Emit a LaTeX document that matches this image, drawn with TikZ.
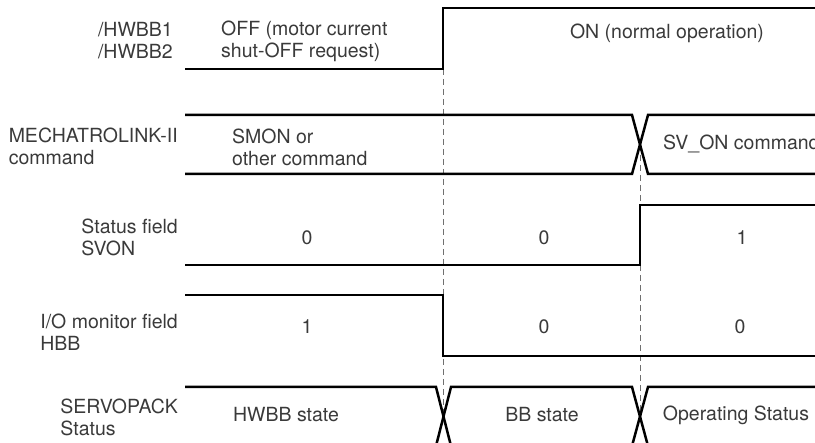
\documentclass[tikz,border=0pt]{standalone}
\usepackage{fontspec}
\setmainfont{TeX Gyre Heros}
\usepackage{xcolor}
\usepackage{tikz}
\definecolor{ink}{HTML}{3A3A3A}
\definecolor{guide}{HTML}{707070}
\tikzset{
  wave/.style={line width=2.5pt},
  guideline/.style={guide,line width=0.8pt,dash pattern=on 6pt off 4pt},
  siglabel/.style={anchor=east,align=left,text=ink,inner sep=0pt,font=\fontsize{19.5}{22}\selectfont},
  value/.style={text=ink,inner sep=0pt,font=\fontsize{19.5}{22}\selectfont}
}
\begin{document}
\begin{tikzpicture}[x=1pt,y=-1pt]
  \useasboundingbox (0,0) rectangle (815,443);
  \clip (0,0) rectangle (815,443);
  \draw[guideline] (443,69) -- (443,415);
  \draw[guideline] (640,145) -- (640,415);
  \draw[wave] (185,69) -- (443,69) -- (443,8) -- (820,8);
  \draw[wave] (185,115) -- (632,115) -- (648,174) -- (820,174);
  \draw[wave] (185,174) -- (632,174) -- (648,115) -- (820,115);
  \draw[wave] (185,265) -- (640,265) -- (640,205) -- (820,205);
  \draw[wave] (185,295) -- (443,295) -- (443,356) -- (820,356);
  \draw[wave] (185,387) -- (436,387) -- (451,446);
  \draw[wave] (436,446) -- (451,387) -- (632,387) -- (648,446);
  \draw[wave] (632,446) -- (648,387) -- (820,387);
  \node[siglabel] (hwbb) at (173,41) {/HWBB1\\/HWBB2};
  \node[siglabel] (mlink) at (178,146) {MECHATROLINK-II\\command};
  \node[siglabel] (svon) at (178,237) {Status field\\SVON};
  \node[siglabel] (hbb) at (178,332) {I/O monitor field\\HBB};
  \node[siglabel] (state) at (178,417) {SERVOPACK\\Status};
  \node[value,anchor=west,align=left] (offreq) at (221,41) {OFF (motor current\\shut-OFF request)};
  \node[value] (normal) at (667,33) {ON (normal operation)};
  \node[value,anchor=west,align=left] (smon) at (232,147) {SMON or\\other command};
  \node[value,anchor=west] (svoncmd) at (663,144) {SV\_ON command};
  \node[value] (svonA) at (307,238) {0};
  \node[value] (svonB) at (544,238) {0};
  \node[value] (svonC) at (742,238) {1};
  \node[value] (hbbA) at (307,327) {1};
  \node[value] (hbbB) at (544,327) {0};
  \node[value] (hbbC) at (740,327) {0};
  \node[value] (hwbbst) at (286,415) {HWBB state};
  \node[value] (bbst) at (542,415) {BB state};
  \node[value] (opst) at (736,415) {Operating Status};
\end{tikzpicture}
\end{document}
